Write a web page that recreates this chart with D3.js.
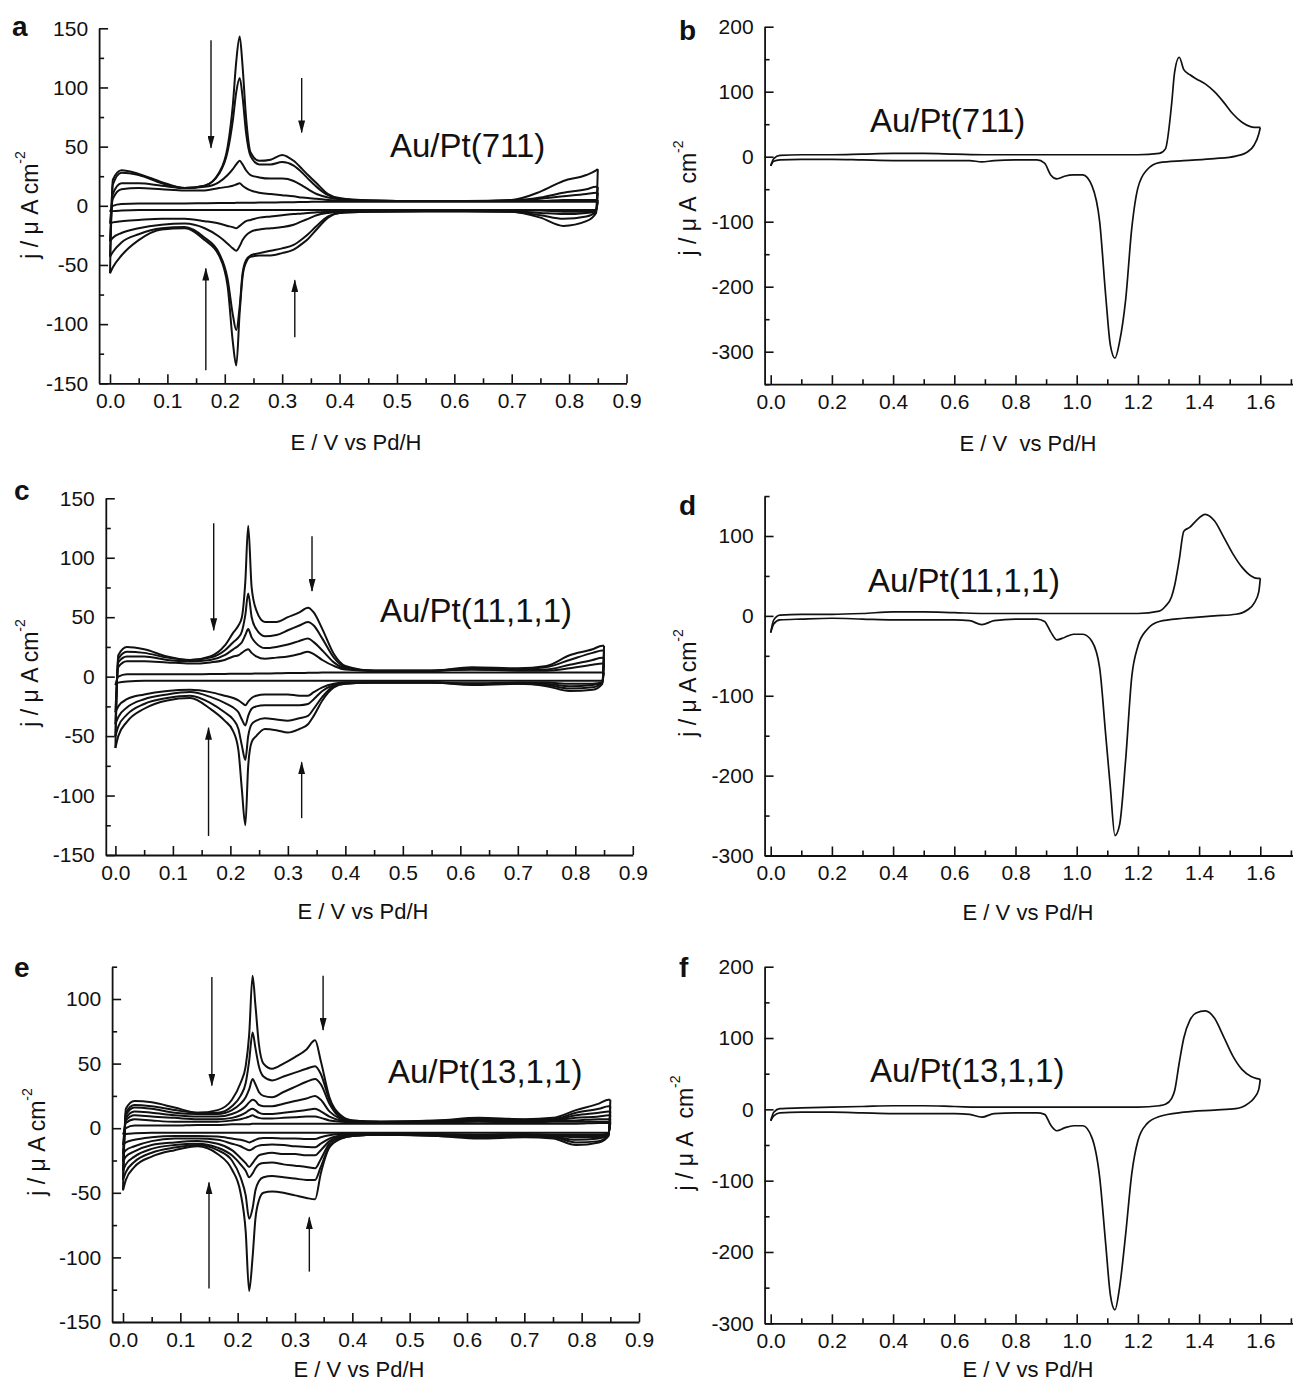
<!DOCTYPE html>
<html><head><meta charset="utf-8">
<script src="https://cdn.jsdelivr.net/npm/d3@7"></script>
<style>
body{margin:0;background:#fff}
text{font-family:"Liberation Sans",Arial,Helvetica,sans-serif;fill:#111}
</style>
</head><body>
<svg id="chart" width="1293" height="1381"></svg>
<script>
// ---------------- DATA ----------------
// Potential grids (V vs Pd/H)
const gridLow = [0, 0.005, 0.02, 0.05, 0.09, 0.13, 0.165, 0.19, 0.205, 0.214, 0.22, 0.226, 0.231, 0.237, 0.245, 0.26, 0.28, 0.30, 0.32, 0.335, 0.345, 0.36, 0.38, 0.40, 0.45, 0.55, 0.62, 0.7, 0.75, 0.79, 0.83, 0.847, 0.85];
const gridHiUp = [0, 0.01, 0.03, 0.1, 0.2, 0.3, 0.4, 0.5, 0.6, 0.7, 0.8, 0.9, 1.0, 1.1, 1.2, 1.27, 1.29, 1.31, 1.32, 1.335, 1.35, 1.37, 1.39, 1.42, 1.45, 1.48, 1.51, 1.54, 1.57, 1.59, 1.6];
const gridHiDn = [0, 0.01, 0.03, 0.1, 0.2, 0.3, 0.4, 0.5, 0.6, 0.65, 0.69, 0.73, 0.8, 0.87, 0.895, 0.915, 0.935, 0.96, 0.99, 1.02, 1.05, 1.075, 1.095, 1.11, 1.125, 1.14, 1.16, 1.18, 1.2, 1.23, 1.27, 1.35, 1.45, 1.52, 1.56, 1.58, 1.595, 1.6];

// Panel a: Au/Pt(711), current density (µA cm^-2), anodic (up) and cathodic (dn) sweeps per cycle
const aUp = [
  [-57, 22, 30, 27, 20, 15, 17, 28, 50, 85, 122, 143, 118, 75, 45, 38, 39, 43, 38, 31, 26, 19, 10, 6.5, 4.5, 4, 4, 5, 12, 21, 26, 30, 31],
  [-43, 18, 28, 26, 19, 15, 17, 27, 46, 72, 96, 108, 92, 62, 42, 35, 35, 37, 34, 28, 23, 16, 9, 6, 4.5, 4, 4, 4.5, 7, 11, 14, 16, 16],
  [-30, 10, 19, 19, 17, 15, 16, 20, 26, 31, 35, 38, 35, 30, 26, 24, 23, 23, 21, 17, 14, 10, 7, 5.5, 4.5, 4, 4, 4, 6, 8, 10, 11, 11],
  [-15, 6, 14, 15, 14, 13, 13, 15, 16, 17, 18, 19, 17, 15, 13, 11, 10, 9, 8, 7, 6.5, 6, 5, 4.5, 4, 4, 4, 4, 4, 5, 5, 5, 5],
  [-5, 0, 1.5, 2, 2, 2, 2.2, 2.3, 2.4, 2.4, 2.5, 2.5, 2.5, 2.5, 2.6, 2.7, 2.8, 3, 3, 3.2, 3.3, 3.4, 3.5, 3.5, 3.5, 3.5, 3.5, 3.5, 3.5, 3.5, 3.5, 3.5, 3.5]
];
const aDn = [
  [-57, -52, -42, -29, -20, -19, -29, -42, -68, -115, -135, -90, -60, -48, -43, -42, -42, -40, -37, -32, -28, -20, -10, -6, -5, -4.5, -4.5, -5, -10, -17, -13, -6, 31],
  [-43, -39, -31, -24, -19, -18, -27, -40, -62, -92, -105, -85, -57, -46, -42, -40, -38, -36, -33, -28, -24, -17, -9, -6, -5, -4.5, -4.5, -5, -8, -11, -9, -5, 16],
  [-30, -27, -23, -19, -16, -15, -19, -26, -32, -36, -38, -34, -29, -25, -22, -20, -19, -18, -16, -13, -11, -8, -6, -5, -4.5, -4.5, -4.5, -4.5, -6, -7, -6, -5, 11],
  [-15, -14, -13, -12, -11, -11, -13, -15, -17, -18, -19, -17, -15, -13, -12, -10, -9, -8, -7, -6.5, -6, -5.5, -5, -4.5, -4, -4, -4, -4, -4, -5, -5, -4, 5],
  [-5, -4.5, -4, -3.5, -3.5, -3.5, -3.5, -3.5, -3.5, -3.5, -3.5, -3.5, -3.5, -3.5, -3.5, -3.5, -3.5, -3.5, -3.5, -3.5, -3.5, -3.5, -3.5, -3.5, -3.5, -3.5, -3.5, -3.5, -3.5, -3.5, -3.5, -3.5, 3.5]
];

// Panel c: Au/Pt(11,1,1)
const cUp = [
  [-60, 18, 25, 23, 17, 14, 17, 26, 37, 43, 50, 80, 127, 75, 56, 46, 46, 50, 54, 58, 54, 40, 19, 9, 5, 5, 8, 7, 9, 18, 23, 26, 26],
  [-50, 15, 21, 20, 16, 14, 16, 22, 29, 33, 38, 52, 70, 50, 40, 34, 35, 39, 43, 46, 43, 32, 16, 8, 5, 5, 7, 6, 8, 14, 20, 22, 22],
  [-40, 12, 17, 17, 14, 13, 14, 18, 23, 26, 29, 35, 40, 33, 28, 24, 25, 27, 30, 32, 29, 22, 12, 7, 5, 5, 6, 5.5, 6, 10, 14, 16, 16],
  [-30, 8, 13, 13, 12, 11, 12, 14, 17, 18, 20, 22, 23, 20, 17, 15, 16, 17, 19, 21, 19, 14, 9, 6, 5, 5, 6, 5, 5, 7, 10, 11, 11],
  [-7, 0, 2, 2, 2, 2, 2.2, 2.3, 2.4, 2.5, 2.5, 2.5, 2.5, 2.5, 2.6, 2.7, 2.8, 3, 3, 3.2, 3.3, 3.4, 3.5, 3.5, 3.5, 3.5, 3.5, 3.5, 3.5, 3.5, 3.5, 3.5, 3.5]
];
const cDn = [
  [-60, -50, -38, -27, -20, -18, -27, -37, -46, -62, -95, -125, -75, -55, -50, -44, -45, -47, -44, -40, -33, -20, -9, -6, -5, -5, -7, -6, -8, -12, -11, -6, 26],
  [-50, -42, -32, -23, -18, -16, -22, -30, -36, -44, -58, -70, -50, -40, -37, -35, -36, -37, -35, -33, -27, -17, -8, -6, -5, -5, -6, -6, -7, -10, -9, -5, 22],
  [-40, -34, -26, -19, -15, -13, -17, -22, -26, -30, -36, -41, -33, -27, -25, -24, -24, -24, -24, -23, -19, -12, -7, -5, -5, -5, -6, -5.5, -6, -8, -7, -5, 16],
  [-30, -25, -19, -15, -12, -11, -13, -16, -18, -20, -22, -24, -21, -18, -16, -15, -15, -15, -16, -16, -13, -9, -6, -5, -5, -5, -5.5, -5, -5, -6, -6, -5, 11],
  [-7, -5, -4, -3.5, -3.5, -3.5, -3.5, -3.5, -3.5, -3.5, -3.5, -3.5, -3.5, -3.5, -3.5, -3.5, -3.5, -3.5, -3.5, -3.5, -3.5, -3.5, -3.5, -3.5, -3.5, -3.5, -3.5, -3.5, -3.5, -3.5, -3.5, -3.5, 3.5]
];

// Panel e: Au/Pt(13,1,1)
const eUp = [
  [-48, 15, 21, 20, 16, 12, 14, 22, 35, 48, 72, 118, 95, 65, 50, 46, 50, 55, 61, 68, 52, 24, 10, 6, 5, 6, 8, 7, 8, 14, 19, 22, 22],
  [-40, 12, 18, 17, 14, 12, 12, 17, 25, 35, 52, 74, 62, 48, 40, 37, 40, 43, 46, 48, 42, 22, 9, 6, 5, 6, 7, 6.5, 7, 12, 15, 17, 17],
  [-33, 10, 16, 15, 12, 11, 11, 14, 19, 24, 30, 38, 34, 28, 25, 24, 28, 32, 36, 38, 34, 19, 8, 5.5, 5, 5.5, 7, 6, 6.5, 10, 12, 13, 13],
  [-26, 8, 13, 12, 10, 9, 9, 11, 14, 17, 20, 22, 21, 18, 17, 17, 19, 21, 23, 25, 22, 13, 7, 5, 4.5, 5, 6, 5.5, 6, 8, 9, 10, 10],
  [-20, 6, 10, 9, 8, 7, 7, 8, 10, 12, 14, 15, 14, 12, 11, 11, 12, 13, 14, 15, 13, 9, 6, 5, 4.5, 5, 5.5, 5, 5.5, 6, 7, 7, 7],
  [-13, 4, 7, 6, 5, 5, 5, 6, 7, 8, 9, 10, 9, 8, 7.5, 7.5, 8, 8.5, 9, 9, 8, 6, 5, 4.5, 4, 4.5, 5, 4.5, 5, 5, 5, 5, 5],
  [-5, 0, 2, 2, 2, 2.5, 2.5, 3, 3, 3, 3, 3.5, 3.5, 3.5, 3.5, 3.5, 3.5, 3.5, 3.5, 3.5, 3.5, 3.5, 3.5, 3.5, 3.5, 3.5, 3.5, 3.5, 3.5, 3.5, 4, 4, 4]
];
const eDn = [
  [-48, -40, -30, -22, -17, -14, -20, -32, -50, -80, -126, -100, -70, -56, -50, -49, -50, -52, -54, -55, -35, -15, -8, -6, -5, -6, -8, -7, -8, -13, -11, -6, 22],
  [-40, -34, -26, -19, -15, -13, -17, -25, -38, -52, -70, -62, -48, -41, -38, -37, -38, -39, -40, -40, -30, -14, -8, -6, -5, -6, -7, -6.5, -7, -11, -10, -5, 17],
  [-33, -28, -22, -16, -13, -12, -15, -21, -28, -33, -38, -35, -31, -28, -27, -26.5, -28, -29, -30, -31, -24, -12, -7, -5.5, -5, -5.5, -7, -6, -6.5, -9, -8, -5, 13],
  [-26, -22, -18, -13, -11, -10, -12, -17, -23, -27, -30, -27, -24, -21, -20, -19, -20, -20, -21, -21, -17, -10, -6, -5, -4.5, -5, -6, -5.5, -6, -7, -7, -4.5, 10],
  [-20, -17, -14, -10, -8, -8, -9, -12, -14, -16, -17, -16, -14.5, -13.5, -13, -12.6, -13, -14, -14.5, -14.7, -12, -8, -5.5, -4.5, -4.5, -5, -5.5, -5, -5.5, -6, -6, -4.5, 7],
  [-13, -11, -9, -7, -6, -6, -6.5, -8, -9, -10, -11, -10, -9, -8, -7.5, -7.5, -8, -8, -8.3, -8.3, -7, -5.5, -4.5, -4, -4, -4.5, -5, -4.5, -5, -5, -5, -4, 5],
  [-5, -4.5, -4, -3.5, -3.5, -3.5, -3.5, -3.5, -3.5, -3.5, -3.5, -3.5, -3.5, -3.5, -3.5, -3.5, -3.5, -3.5, -3.5, -3.5, -3.5, -3.5, -3.5, -3.5, -3.5, -3.5, -3.5, -3.5, -3.5, -3.5, -3.5, -3.5, 4]
];

// Panels b, d, f: wide-range CVs
const bUp = [-14, -3, 2, 3, 3, 4, 5, 5, 4, 3, 3, 3, 3, 3, 3, 5, 12, 80, 130, 153, 134, 126, 120, 112, 100, 84, 66, 53, 46, 45, 45];
const bDn = [-14, -7, -5, -4, -4, -5, -6, -6, -6, -6, -8, -6, -5, -5, -10, -28, -34, -30, -28, -28, -45, -100, -215, -290, -310, -285, -220, -110, -48, -20, -9, -6, -3, 1, 8, 18, 35, 45];
const dUp = [-21, -5, 1, 2, 2, 3, 5, 5, 4, 3, 3, 3, 3, 3, 3, 6, 12, 24, 38, 70, 106, 111, 119, 127, 119, 99, 78, 61, 50, 47, 47];
const dDn = [-21, -10, -5, -4, -3, -4, -5, -5, -5, -6, -11, -6, -4, -4, -7, -20, -30, -27, -23, -23, -32, -65, -150, -215, -275, -262, -180, -76, -38, -17, -7, -3, 0, 2, 8, 16, 30, 47];
const fUp = [-16, -4, 1, 2, 3, 4, 5, 5, 4, 3, 3, 3, 3, 3, 3, 5, 7, 15, 26, 65, 100, 125, 135, 138, 128, 102, 75, 56, 46, 43, 42];
const fDn = [-16, -9, -5, -4, -4, -5, -6, -6, -6, -7, -11, -6, -5, -5, -7, -22, -30, -26, -23, -23, -40, -95, -190, -260, -281, -250, -175, -90, -44, -20, -10, -4, -1, 1, 8, 16, 28, 42];

// Tick values / labels
const xTicksLow = [0, 0.1, 0.2, 0.3, 0.4, 0.5, 0.6, 0.7, 0.8, 0.9];
const xTicksHigh = [0, 0.2, 0.4, 0.6, 0.8, 1.0, 1.2, 1.4, 1.6];
const yTicksAC = [-150, -100, -50, 0, 50, 100, 150];
const yTicksE = [-150, -100, -50, 0, 50, 100];
const yTicksB = [-300, -200, -100, 0, 100, 200];
const yTicksD = [-300, -200, -100, 0, 100];
const yTicksF = [-300, -200, -100, 0, 100, 200];

// Arrows (potential, start current, end current)
const arrowsA = {E: [0.176, 0.334, 0.167, 0.322], from: [140, 108, -139, -111], to: [49, 62, -53, -63]};
const arrowsC = {E: [0.171, 0.342, 0.162, 0.324], from: [129, 118, -134, -119], to: [39, 72, -43, -72]};
const arrowsE = {E: [0.155, 0.349, 0.150, 0.325], from: [117, 118, -124, -111], to: [33, 76, -42, -69]};

const panelLetters = ['a', 'b', 'c', 'd', 'e', 'f'];
const surfaceLabels = ['Au/Pt(711)', 'Au/Pt(711)', 'Au/Pt(11,1,1)', 'Au/Pt(11,1,1)', 'Au/Pt(13,1,1)', 'Au/Pt(13,1,1)'];

// ---------------- LAYOUT ----------------
const panels = [
  {up: aUp, dn: aDn, gUp: gridLow, gDn: gridLow, xRef: [0, 0.9, 110, 626.5], xExt: [-0.019, 0.9],
   yRef: [150, -150, 28.3, 383.3], yExt: [-150, 150], xTicks: xTicksLow, xMinorStep: 0.1, yTicks: yTicksAC, yMinorStep: 50,
   letter: [12, 36], label: [390, 157], xTitle: [356, 442, 'E / V vs Pd/H'], yTitle: [30, 205, 'j / \u03bc A cm'], arrows: arrowsA, lw: 2},
  {up: [bUp], dn: [bDn], gUp: gridHiUp, gDn: gridHiDn, xRef: [0, 1.6, 770.7, 1260.3], xExt: [-0.02, 1.707],
   yRef: [200, -300, 26.7, 351.7], yExt: [-350, 200], xTicks: xTicksHigh, xMinorStep: 0.2, yTicks: yTicksB, yMinorStep: 100,
   letter: [679, 40], label: [870, 132], xTitle: [1028, 443, 'E / V\u00a0 vs Pd/H'], yTitle: [688, 198, 'j / \u03bc A\u00a0 cm'], arrows: null, lw: 1.7},
  {up: cUp, dn: cDn, gUp: gridLow, gDn: gridLow, xRef: [0, 0.9, 115.4, 632.8], xExt: [-0.0167, 0.9],
   yRef: [150, -150, 498.3, 855], yExt: [-150, 150], xTicks: xTicksLow, xMinorStep: 0.1, yTicks: yTicksAC, yMinorStep: 50,
   letter: [14, 500], label: [380, 622], xTitle: [363, 911, 'E / V vs Pd/H'], yTitle: [30, 673, 'j / \u03bc A cm'], arrows: arrowsC, lw: 2},
  {up: [dUp], dn: [dDn], gUp: gridHiUp, gDn: gridHiDn, xRef: [0, 1.6, 770.7, 1260.3], xExt: [-0.02, 1.707],
   yRef: [100, -300, 536, 855.5], yExt: [-300, 150], xTicks: xTicksHigh, xMinorStep: 0.2, yTicks: yTicksD, yMinorStep: 100,
   letter: [679, 515], label: [868, 592], xTitle: [1028, 912, 'E / V vs Pd/H'], yTitle: [688, 683, 'j / \u03bc A cm'], arrows: null, lw: 1.7},
  {up: eUp, dn: eDn, gUp: gridLow, gDn: gridLow, xRef: [0, 0.9, 123, 639], xExt: [-0.019, 0.9],
   yRef: [100, -150, 999, 1322], yExt: [-150, 125], xTicks: xTicksLow, xMinorStep: 0.1, yTicks: yTicksE, yMinorStep: 50,
   letter: [14, 977], label: [388, 1083], xTitle: [359, 1369, 'E / V vs Pd/H'], yTitle: [37, 1142, 'j / \u03bc A cm'], arrows: arrowsE, lw: 2},
  {up: [fUp], dn: [fDn], gUp: gridHiUp, gDn: gridHiDn, xRef: [0, 1.6, 770.7, 1260.3], xExt: [-0.02, 1.707],
   yRef: [200, -300, 966.7, 1323.3], yExt: [-300, 200], xTicks: xTicksHigh, xMinorStep: 0.2, yTicks: yTicksF, yMinorStep: 100,
   letter: [679, 977], label: [870, 1082], xTitle: [1028, 1369, 'E / V vs Pd/H'], yTitle: [685, 1133, 'j / \u03bc A\u00a0 cm'], arrows: null, lw: 1.7}
];

// ---------------- DRAW ----------------
const svg = d3.select('#chart');
svg.append('rect').attr('width', 1293).attr('height', 1381).attr('fill', '#fff');
const defs = svg.append('defs');
defs.append('marker').attr('id', 'ah').attr('viewBox', '0 0 13 7').attr('refX', 12).attr('refY', 3.5)
  .attr('markerWidth', 13).attr('markerHeight', 7).attr('markerUnits', 'userSpaceOnUse').attr('orient', 'auto')
  .append('path').attr('d', 'M0,0L13,3.5L0,7Z').attr('fill', '#111');

const INK = '#111';
panels.forEach((p, i) => {
  const g = svg.append('g');
  const xr = d3.scaleLinear().domain([p.xRef[0], p.xRef[1]]).range([p.xRef[2], p.xRef[3]]);
  const yr = d3.scaleLinear().domain([p.yRef[0], p.yRef[1]]).range([p.yRef[2], p.yRef[3]]);
  const x = d3.scaleLinear().domain(p.xExt).range(p.xExt.map(xr));
  const y = d3.scaleLinear().domain(p.yExt).range(p.yExt.map(yr));
  const bottom = y(p.yExt[0]);
  const left = x(p.xExt[0]);

  // minor ticks
  const xMinor = [];
  for (let k = 0; k < p.xTicks.length; k++) {
    const v = p.xTicks[k] + p.xMinorStep / 2;
    if (v <= p.xExt[1] + 1e-9) xMinor.push(+v.toFixed(3));
  }
  const yMinor = [];
  for (let k = 0; k < p.yTicks.length; k++) {
    const v = p.yTicks[k] + p.yMinorStep / 2;
    if (v <= p.yExt[1] + 1e-9) yMinor.push(v);
  }
  if (p.yTicks[0] - p.yMinorStep / 2 >= p.yExt[0]) yMinor.push(p.yTicks[0] - p.yMinorStep / 2);

  const styleAxis = sel => {
    sel.attr('font-size', 21).attr('font-family', '"Liberation Sans", Arial, sans-serif');
    sel.selectAll('.domain').attr('stroke', INK).attr('stroke-width', 1.8);
    sel.selectAll('.tick line').attr('stroke', INK).attr('stroke-width', 1.6);
    sel.selectAll('.tick text').attr('fill', INK);
  };

  g.append('g').attr('transform', `translate(0,${bottom})`)
    .call(d3.axisBottom(x).tickValues(xMinor).tickSize(-5).tickSizeOuter(0).tickFormat(''))
    .call(s => { s.select('.domain').remove(); s.selectAll('.tick line').attr('stroke', INK).attr('stroke-width', 1.6); });
  g.append('g').attr('transform', `translate(${left},0)`)
    .call(d3.axisLeft(y).tickValues(yMinor).tickSize(-5).tickSizeOuter(0).tickFormat(''))
    .call(s => { s.select('.domain').remove(); s.selectAll('.tick line').attr('stroke', INK).attr('stroke-width', 1.6); });

  g.append('g').attr('transform', `translate(0,${bottom})`)
    .call(d3.axisBottom(x).tickValues(p.xTicks).tickSize(-9).tickSizeOuter(0).tickPadding(10).tickFormat(d => d.toFixed(1)))
    .call(styleAxis);
  g.append('g').attr('transform', `translate(${left},0)`)
    .call(d3.axisLeft(y).tickValues(p.yTicks).tickSize(-9).tickSizeOuter(0).tickPadding(11).tickFormat(d => String(d)))
    .call(styleAxis);

  // curves
  const line = d3.line().x(d => x(d[0])).y(d => y(d[1])).curve(d3.curveMonotoneX);
  p.dn.forEach(arr => {
    g.append('path').datum(d3.zip(p.gDn, arr)).attr('d', line)
      .attr('fill', 'none').attr('stroke', INK).attr('stroke-width', p.lw).attr('stroke-linejoin', 'round');
  });
  p.up.forEach(arr => {
    g.append('path').datum(d3.zip(p.gUp, arr)).attr('d', line)
      .attr('fill', 'none').attr('stroke', INK).attr('stroke-width', p.lw).attr('stroke-linejoin', 'round');
  });

  // arrows
  if (p.arrows) {
    p.arrows.E.forEach((e, k) => {
      g.append('line').attr('x1', x(e)).attr('x2', x(e))
        .attr('y1', y(p.arrows.from[k])).attr('y2', y(p.arrows.to[k]))
        .attr('stroke', INK).attr('stroke-width', 1.4).attr('marker-end', 'url(#ah)');
    });
  }

  // texts
  g.append('text').attr('x', p.letter[0]).attr('y', p.letter[1]).attr('font-size', 28).attr('font-weight', 'bold').text(panelLetters[i]);
  g.append('text').attr('x', p.label[0]).attr('y', p.label[1]).attr('font-size', 33).text(surfaceLabels[i]);
  g.append('text').attr('x', p.xTitle[0]).attr('y', p.xTitle[1]).attr('font-size', 22).attr('text-anchor', 'middle')
    .attr('dominant-baseline', 'central').text(p.xTitle[2]);
  const yt = g.append('text').attr('transform', `translate(${p.yTitle[0]},${p.yTitle[1]}) rotate(-90)`)
    .attr('font-size', 23).attr('text-anchor', 'middle').attr('dominant-baseline', 'central');
  yt.append('tspan').text(p.yTitle[2]);
  yt.append('tspan').attr('font-size', 14).attr('dy', -10).text('-2');
});
</script>
</body></html>
